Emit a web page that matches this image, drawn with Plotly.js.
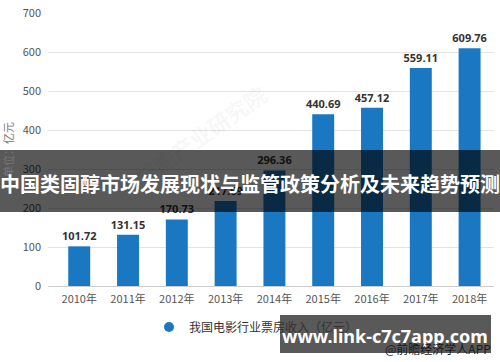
<!DOCTYPE html>
<html>
<head>
<meta charset="utf-8">
<script src="https://cdn.plot.ly/plotly-3.0.1.min.js"></script>
<style>
html,body{margin:0;padding:0;background:#fff;}
#chart{width:500px;height:362px;}
</style>
</head>
<body>
<div id="chart"></div>
<script>
var years = ["2010年","2011年","2012年","2013年","2014年","2015年","2016年","2017年","2018年"];
var boxOffice = [101.72, 131.15, 170.73, 217.69, 296.36, 440.69, 457.12, 559.11, 609.76];
var seriesName = "我国电影行业票房收入（亿元）";
var yTicks = [0, 100, 200, 300, 400, 500, 600, 700];
var bannerText = "中国类固醇市场发展现状与监管政策分析及未来趋势预测";
var siteText = "www.link-c7c7app.com";
var sourceText = "@前瞻经济学人APP";

var fontFam = '"Microsoft YaHei","Noto Sans CJK SC","Noto Sans",sans-serif';
var barColor = '#1a78c2';

var barTrace = {
  type: 'bar',
  x: years,
  y: boxOffice,
  name: seriesName,
  marker: {color: barColor},
  width: 0.45,
  text: boxOffice.map(function(v){return v.toFixed(2);}),
  textposition: 'outside',
  constraintext: 'none',
  textfont: {family: '"Noto Sans","DejaVu Sans",sans-serif', size: 11, color: '#333', weight: 'bold'},
  cliponaxis: false,
  hoverinfo: 'skip',
  showlegend: false
};

var legendTrace = {
  type: 'scatter',
  mode: 'markers',
  x: [years[0]],
  y: [null],
  name: seriesName,
  marker: {color: barColor, size: 10, symbol: 'circle'},
  hoverinfo: 'skip',
  showlegend: true
};

var layout = {
  width: 500,
  height: 362,
  margin: {l: 48, r: 6, t: 13, b: 76},
  paper_bgcolor: '#fff',
  plot_bgcolor: '#fff',
  font: {family: fontFam, color: '#555', size: 11},
  xaxis: {
    type: 'category',
    range: [-0.64, 8.5],
    showgrid: false,
    showline: true,
    linecolor: '#ccc',
    linewidth: 1,
    ticks: '',
    ticklabelstandoff: 3,
    tickfont: {size: 11, color: '#555'},
    fixedrange: true
  },
  yaxis: {
    range: [0, 700],
    tickvals: yTicks,
    showgrid: true,
    gridcolor: '#e3e3e3',
    zeroline: false,
    showline: false,
    ticks: '',
    ticklabelstandoff: 6,
    tickfont: {size: 11, color: '#555'},
    title: {text: '单位：亿元', font: {size: 11, color: '#777'}, standoff: 6},
    fixedrange: true
  },
  showlegend: true,
  legend: {
    orientation: 'h',
    x: 0.5 - 15/446, xanchor: 'center',
    y: (286-327)/273, yanchor: 'middle',
    bgcolor: 'rgba(0,0,0,0)',
    font: {size: 12, color: '#333'}
  },
  shapes: [
    {type: 'rect', xref: 'paper', yref: 'paper', layer: 'above',
     x0: -0.2, x1: 1.1, y0: (362-76-212)/273, y1: (362-76-150)/273,
     fillcolor: 'rgba(0,0,0,0.65)', line: {width: 0}},
    {type: 'rect', xref: 'paper', yref: 'paper', layer: 'above',
     x0: (280-48)/446, x1: (491-48)/446, y0: (286-353)/273, y1: (286-315)/273,
     fillcolor: 'rgba(0,0,0,0.65)', line: {width: 0}}
  ],
  annotations: [
    {text: '前瞻产业研究院', xref: 'paper', yref: 'paper',
     x: (200-48)/446, y: (286-75)/273, showarrow: false, textangle: -35,
     font: {size: 22, color: 'rgba(0,0,0,0.05)', weight: 'bold'}},
    {text: bannerText, xref: 'paper', yref: 'paper',
     x: (250-48)/446, y: (286-183)/273, xanchor: 'center', yanchor: 'middle',
     showarrow: false,
     font: {family: '"Noto Sans CJK SC",sans-serif', size: 20, color: '#fff', weight: 'bold'}},
    {text: siteText, xref: 'paper', yref: 'paper',
     x: (385-48)/446, y: (286-336)/273, xanchor: 'center', yanchor: 'middle',
     showarrow: false,
     font: {family: '"Noto Sans","DejaVu Sans",sans-serif', size: 18, color: '#fff', weight: 'bold'}},
    {text: sourceText, xref: 'paper', yref: 'paper',
     x: (493-48)/446, y: (286-348)/273, xanchor: 'right', yanchor: 'middle',
     showarrow: false,
     font: {family: fontFam, size: 12, color: '#1a1a1a'}}
  ]
};

Plotly.newPlot('chart', [barTrace, legendTrace], layout, {displayModeBar: false, staticPlot: true});
</script>
</body>
</html>
